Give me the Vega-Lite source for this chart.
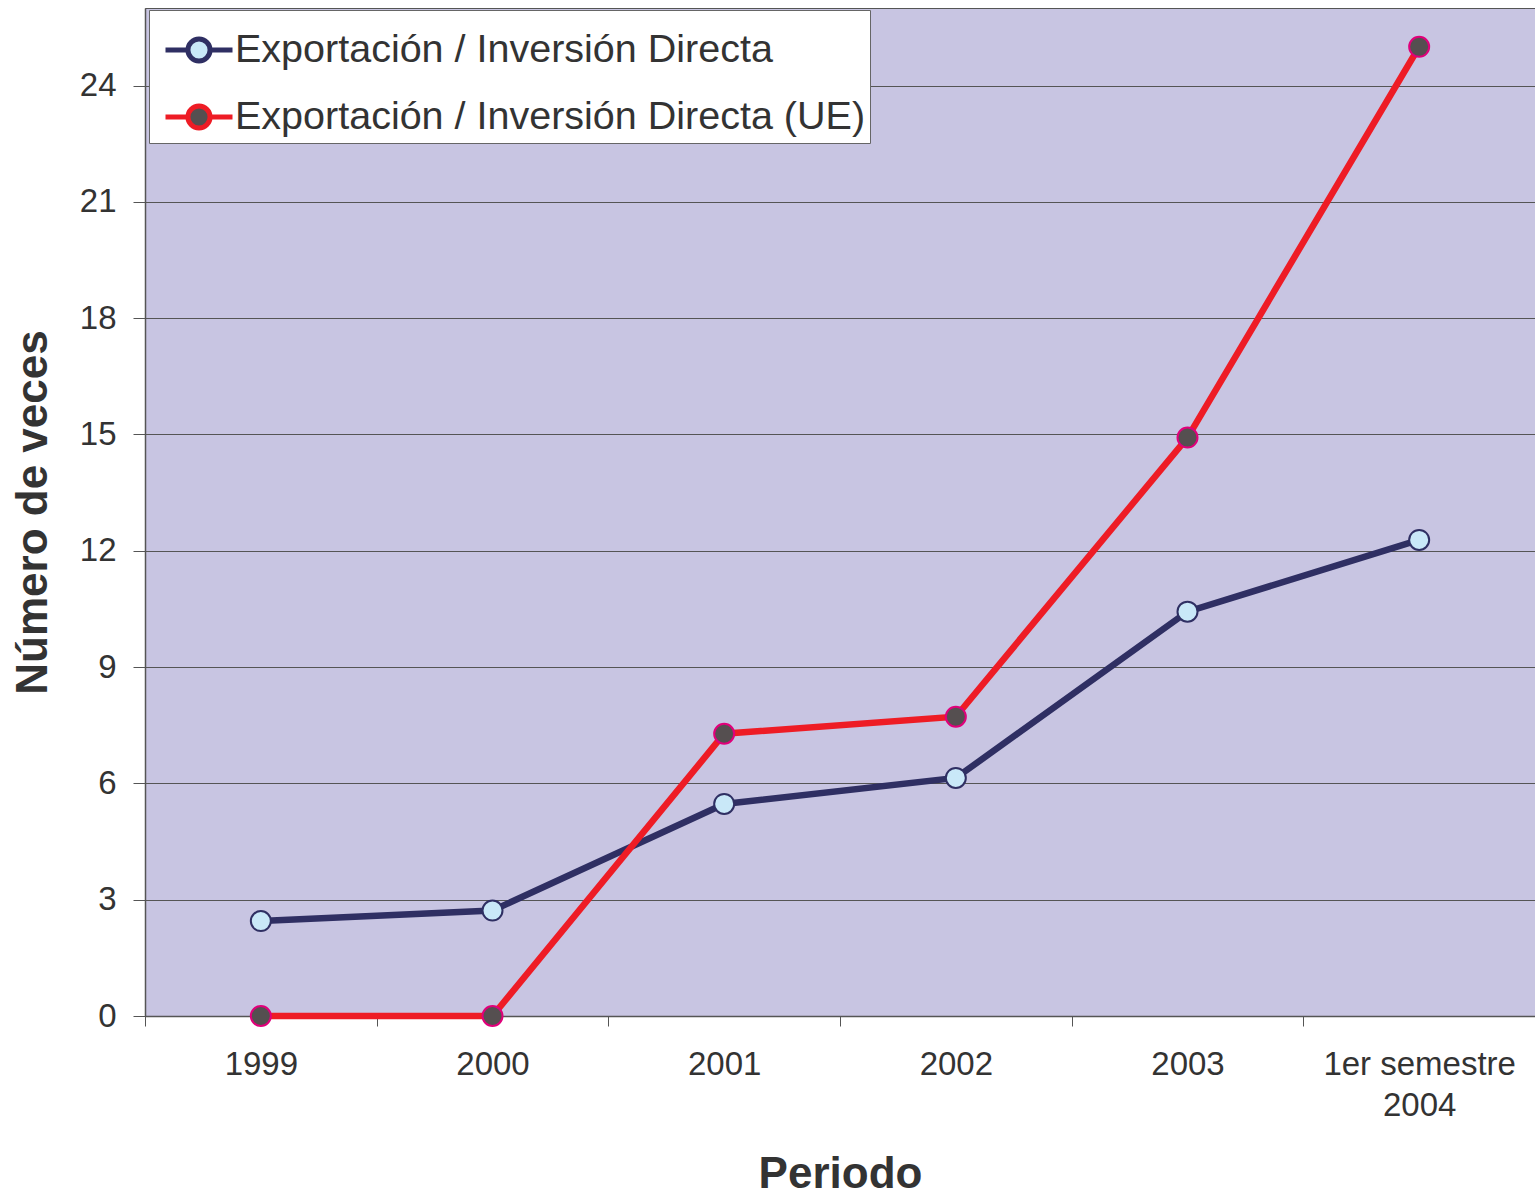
{
  "$schema": "https://vega.github.io/schema/vega-lite/v6.json",
  "autosize": "none",
  "width": 1390,
  "height": 1008,
  "padding": {"left": 145, "top": 8, "right": 0, "bottom": 179},
  "background": "white",
  "config": {
    "font": "Liberation Sans",
    "view": {"fill": "#C8C5E2", "stroke": "#555555", "strokeWidth": 1}
  },
  "data": {
    "values": [
      {"periodo": "1999", "serie": "Exportación / Inversión Directa", "valor": 2.45},
      {"periodo": "2000", "serie": "Exportación / Inversión Directa", "valor": 2.72},
      {"periodo": "2001", "serie": "Exportación / Inversión Directa", "valor": 5.47},
      {"periodo": "2002", "serie": "Exportación / Inversión Directa", "valor": 6.14},
      {"periodo": "2003", "serie": "Exportación / Inversión Directa", "valor": 10.43},
      {"periodo": "1er semestre 2004", "serie": "Exportación / Inversión Directa", "valor": 12.28},
      {"periodo": "1999", "serie": "Exportación / Inversión Directa (UE)", "valor": 0},
      {"periodo": "2000", "serie": "Exportación / Inversión Directa (UE)", "valor": 0},
      {"periodo": "2001", "serie": "Exportación / Inversión Directa (UE)", "valor": 7.28},
      {"periodo": "2002", "serie": "Exportación / Inversión Directa (UE)", "valor": 7.72},
      {"periodo": "2003", "serie": "Exportación / Inversión Directa (UE)", "valor": 14.92},
      {"periodo": "1er semestre 2004", "serie": "Exportación / Inversión Directa (UE)", "valor": 25.0}
    ]
  },
  "encoding": {
    "x": {
      "field": "periodo",
      "type": "nominal",
      "sort": ["1999", "2000", "2001", "2002", "2003", "1er semestre 2004"],
      "scale": {"type": "band", "paddingInner": 0, "paddingOuter": 0},
      "axis": {
        "title": "Periodo",
        "titleFontSize": 44,
        "titleFontWeight": "bold",
        "titleColor": "#333333",
        "titlePadding": 30,
        "labelAngle": 0,
        "labelFontSize": 33,
        "labelColor": "#333333",
        "labelPadding": 22,
        "labelLineHeight": 41,
        "labelLimit": 400,
        "labelExpr": "datum.value == '1er semestre 2004' ? ['1er semestre', '2004'] : datum.value",
        "tickBand": "extent",
        "tickSize": 10,
        "tickColor": "#555555",
        "domainColor": "#555555",
        "domainWidth": 1.5,
        "grid": false
      }
    },
    "y": {
      "field": "valor",
      "type": "quantitative",
      "scale": {"domain": [0, 26], "nice": false},
      "axis": {
        "title": "Número de veces",
        "titleFontSize": 44,
        "titleFontWeight": "bold",
        "titleColor": "#333333",
        "titlePadding": 24,
        "values": [0, 3, 6, 9, 12, 15, 18, 21, 24],
        "labelFontSize": 33,
        "labelColor": "#333333",
        "labelPadding": 17,
        "tickSize": 12,
        "tickColor": "#555555",
        "domainColor": "#555555",
        "domainWidth": 1.5,
        "grid": true,
        "gridColor": "#555555",
        "gridWidth": 1
      }
    }
  },
  "layer": [
    {
      "mark": {"type": "line", "strokeWidth": 6.5},
      "encoding": {
        "stroke": {
          "field": "serie",
          "type": "nominal",
          "scale": {"domain": ["Exportación / Inversión Directa", "Exportación / Inversión Directa (UE)"], "range": ["#2F2F63", "#EE1C25"]},
          "legend": {
            "title": null,
            "orient": "none",
            "legendX": 4,
            "legendY": 2,
            "fillColor": "white",
            "strokeColor": "#666666",
            "padding": 4,
            "labelFontSize": 39.5,
            "labelColor": "#333333",
            "labelLimit": 1000,
            "labelOffset": 0,
            "rowPadding": 9,
            "symbolOffset": 10,
            "symbolSize": 4489,
            "symbolStrokeWidth": 5,
            "symbolType": "M-1,0L-0.33,0M0.33,0L1,0M-0.33,0A0.33,0.33,0,1,1,0.33,0A0.33,0.33,0,1,1,-0.33,0Z"
          }
        }
      }
    },
    {
      "mark": {"type": "point", "filled": true, "size": 400, "strokeWidth": 2, "opacity": 1},
      "encoding": {
        "fill": {
          "field": "serie",
          "type": "nominal",
          "scale": {"domain": ["Exportación / Inversión Directa", "Exportación / Inversión Directa (UE)"], "range": ["#C9E8F8", "#554F50"]},
          "legend": null
        },
        "stroke": {
          "condition": {"test": "datum.serie == 'Exportación / Inversión Directa (UE)'", "value": "#E0007A"},
          "value": "#2F2F63"
        }
      }
    }
  ]
}
